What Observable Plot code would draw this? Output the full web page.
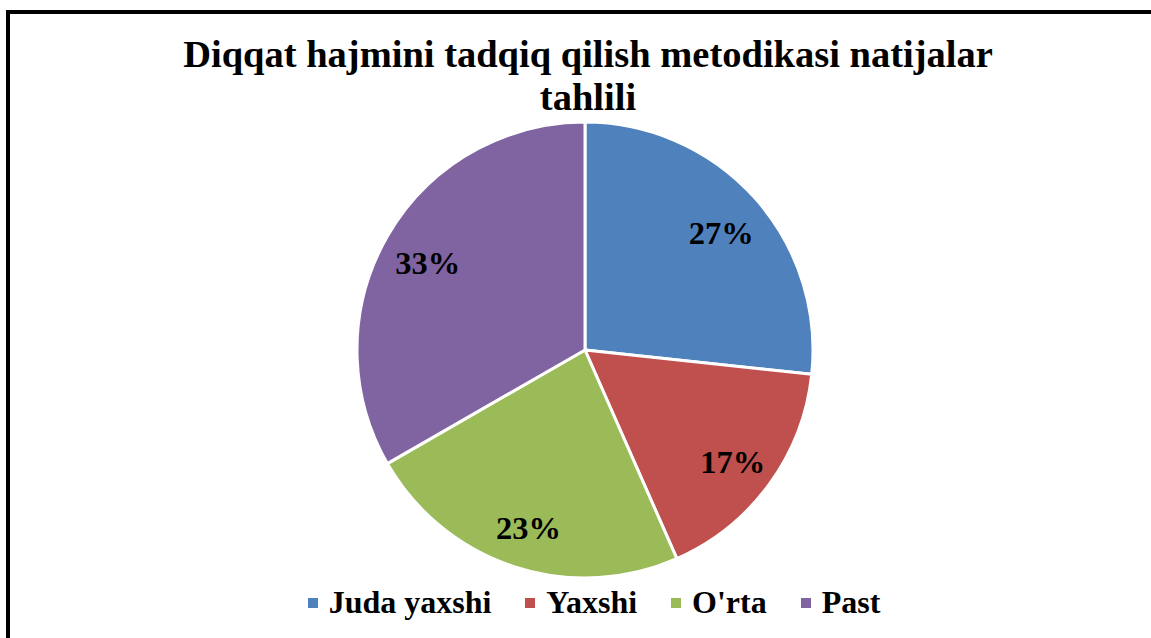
<!DOCTYPE html>
<html>
<head>
<meta charset="utf-8">
<script src="https://cdn.jsdelivr.net/npm/d3@7"></script>
<script src="https://cdn.jsdelivr.net/npm/@observablehq/plot@0.6"></script>
<style>
  html, body { margin: 0; padding: 0; background: #fff; overflow: hidden; width: 1151px; height: 638px; }
  body { position: relative; font-family: "Liberation Serif", "Times New Roman", serif; }
  #frame { position: absolute; left: 6px; top: 10px; width: 1300px; height: 800px; border-left: 4px solid #000; border-top: 4px solid #000; box-sizing: border-box; pointer-events: none; }
  #title { position: absolute; left: 0; width: 1176px; top: 33px; text-align: center; font-weight: bold; font-size: 38.5px; line-height: 43px; color: #000; }
  #chart { position: absolute; left: 0; top: 0; }
  #legend { position: absolute; left: 0; width: 1188px; top: 584px; display: flex; justify-content: center; align-items: center; font-weight: bold; font-size: 32px; line-height: 36px; color: #000; }
  .item { display: flex; align-items: center; margin: 0 17px; }
  .sw { width: 10px; height: 10px; margin-right: 11px; margin-top: 2px; }
</style>
</head>
<body>
<div id="chart"></div>
<div id="title">Diqqat hajmini tadqiq qilish metodikasi natijalar<br>tahlili</div>
<div id="legend"></div>
<div id="frame"></div>
<script>
const categories = ["Juda yaxshi", "Yaxshi", "O'rta", "Past"];
const values = [26.7, 16.7, 23.3, 33.3];
const labels = ["27%", "17%", "23%", "33%"];
const colors = ["#4F81BD", "#C0504D", "#9BBB59", "#8064A2"];

const data = categories.map((c, i) => ({category: c, value: values[i], label: labels[i], color: colors[i]}));
const arcs = d3.pie().sort(null).value(d => d.value).startAngle(0).endAngle(2 * Math.PI)(data);
const labelR = 0.80;
const labelData = arcs.map(a => {
  const m = (a.startAngle + a.endAngle) / 2;
  return {label: a.data.label, x: labelR * Math.sin(m), y: labelR * Math.cos(m) - 0.02};
});

function pieMark(index, scales, vals, dims, context) {
  const cx = scales.x(0), cy = scales.y(0);
  const r = scales.x(1) - scales.x(0);
  const arcGen = d3.arc().innerRadius(0).outerRadius(r);
  const g = d3.create("svg:g").attr("transform", `translate(${cx},${cy})`);
  g.selectAll("path").data(arcs).join("path")
    .attr("d", arcGen)
    .attr("fill", d => d.data.color)
    .attr("stroke", "#fff")
    .attr("stroke-width", 3)
    .attr("stroke-linejoin", "round");
  return g.node();
}

const plot = Plot.plot({
  width: 1151,
  height: 638,
  margin: 0,
  x: {domain: [-1, 1], range: [357, 813], axis: null},
  y: {domain: [-1, 1], range: [578, 122], axis: null},
  style: {fontFamily: "'Liberation Serif', 'Times New Roman', serif", background: "transparent", overflow: "visible"},
  marks: [
    pieMark,
    Plot.text(labelData, {x: "x", y: "y", text: "label", fontSize: 32.5, fontWeight: "bold", fill: "#000"})
  ]
});
document.getElementById("chart").appendChild(plot);

const legend = d3.select("#legend");
data.forEach(d => {
  const it = legend.append("div").attr("class", "item");
  it.append("div").attr("class", "sw").style("background", d.color);
  it.append("span").text(d.category);
});
</script>
</body>
</html>
